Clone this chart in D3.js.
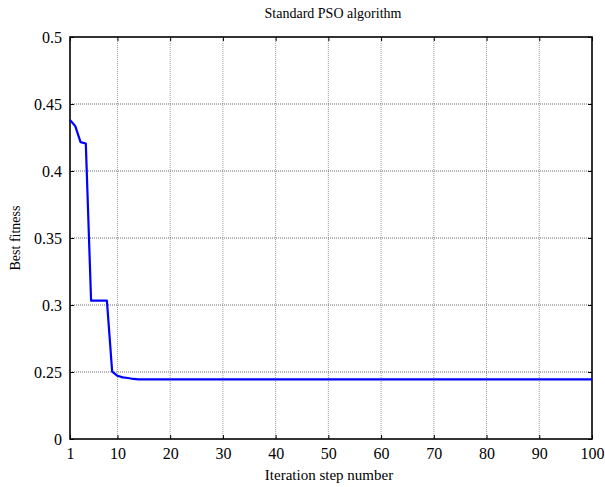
<!DOCTYPE html>
<html>
<head>
<meta charset="utf-8">
<script src="https://cdn.jsdelivr.net/npm/d3@7"></script>
<style>
  html, body { margin: 0; padding: 0; background: #fff; }
  svg { display: block; }
  svg text { font-family: "Liberation Serif", "Times New Roman", serif !important; fill: #000; }
</style>
</head>
<body>
<svg id="chart" width="605" height="487"></svg>
<script>
// ---- data ----
const titleText = "Standard PSO algorithm";
const xLabelText = "Iteration step number";
const yLabelText = "Best fitness";

const iterations = d3.range(1, 101);
const bestFitness = [
  0.4380, 0.4335, 0.4215, 0.4205, 0.3032, 0.3032, 0.3032, 0.3032, 0.2502, 0.2472,
  0.2460, 0.2455, 0.2448, 0.2445, 0.2445, 0.2445, 0.2445, 0.2445, 0.2445, 0.2445,
  0.2445, 0.2445, 0.2445, 0.2445, 0.2445, 0.2445, 0.2445, 0.2445, 0.2445, 0.2445,
  0.2445, 0.2445, 0.2445, 0.2445, 0.2445, 0.2445, 0.2445, 0.2445, 0.2445, 0.2445,
  0.2445, 0.2445, 0.2445, 0.2445, 0.2445, 0.2445, 0.2445, 0.2445, 0.2445, 0.2445,
  0.2445, 0.2445, 0.2445, 0.2445, 0.2445, 0.2445, 0.2445, 0.2445, 0.2445, 0.2445,
  0.2445, 0.2445, 0.2445, 0.2445, 0.2445, 0.2445, 0.2445, 0.2445, 0.2445, 0.2445,
  0.2445, 0.2445, 0.2445, 0.2445, 0.2445, 0.2445, 0.2445, 0.2445, 0.2445, 0.2445,
  0.2445, 0.2445, 0.2445, 0.2445, 0.2445, 0.2445, 0.2445, 0.2445, 0.2445, 0.2445,
  0.2445, 0.2445, 0.2445, 0.2445, 0.2445, 0.2445, 0.2445, 0.2445, 0.2445, 0.2445
];

const xTickValues = [1, 10, 20, 30, 40, 50, 60, 70, 80, 90, 100];
const yTickValues = [0.2, 0.25, 0.3, 0.35, 0.4, 0.45, 0.5];
const yTickLabels = ["0", "0.25", "0.3", "0.35", "0.4", "0.45", "0.5"];

// ---- layout ----
const svg = d3.select("#chart");
const L = 70, R = 592, T = 37, B = 439;
const FONT = '"Liberation Serif", "Times New Roman", serif';

const x = d3.scaleLinear().domain([1, 100]).range([L, R]);
const y = d3.scaleLinear().domain([0.2, 0.5]).range([B, T]);

// grid
const grid = svg.append("g");
grid.selectAll("line.vx")
  .data(xTickValues.slice(1, -1))
  .join("line")
  .attr("x1", d => x(d)).attr("x2", d => x(d))
  .attr("y1", T).attr("y2", B)
  .attr("stroke", "#9a9a9a").attr("stroke-width", 1)
  .attr("stroke-dasharray", "1,1");
grid.selectAll("line.hy")
  .data(yTickValues.slice(1, -1))
  .join("line")
  .attr("x1", L).attr("x2", R)
  .attr("y1", d => y(d)).attr("y2", d => y(d))
  .attr("stroke", "#6a6a6a").attr("stroke-width", 1)
  .attr("stroke-dasharray", "1,1");

// axes (ticks pointing inward)
const fmtY = d => yTickLabels[yTickValues.indexOf(d)];
const axB = svg.append("g").attr("transform", `translate(0,${B})`)
  .call(d3.axisBottom(x).tickValues(xTickValues).tickSize(-4).tickPadding(9).tickSizeOuter(0));
const axT = svg.append("g").attr("transform", `translate(0,${T})`)
  .call(d3.axisTop(x).tickValues(xTickValues).tickSize(-4).tickFormat("").tickSizeOuter(0));
const axL = svg.append("g").attr("transform", `translate(${L},0)`)
  .call(d3.axisLeft(y).tickValues(yTickValues).tickFormat(fmtY).tickSize(-4).tickPadding(8).tickSizeOuter(0));
const axR = svg.append("g").attr("transform", `translate(${R},0)`)
  .call(d3.axisRight(y).tickValues(yTickValues).tickSize(-4).tickFormat("").tickSizeOuter(0));

[axB, axT, axL, axR].forEach(g => {
  g.attr("font-family", null).attr("font-size", null);
  g.select(".domain").remove();
  g.selectAll(".tick line").attr("stroke", "#000").attr("stroke-width", 1);
  g.selectAll("text").style("font-family", FONT)
    .style("font-size", "16px").attr("fill", "#000");
});

// frame
svg.append("rect")
  .attr("x", L).attr("y", T).attr("width", R - L).attr("height", B - T)
  .attr("fill", "none").attr("stroke", "#000").attr("stroke-width", 1.6);

// line
const lineGen = d3.line().x((d, i) => x(iterations[i])).y(d => y(d));
svg.append("path")
  .datum(bestFitness)
  .attr("d", lineGen)
  .attr("fill", "none")
  .attr("stroke", "#0000ff")
  .attr("stroke-width", 2.2)
  .attr("stroke-linejoin", "round");

// labels
svg.append("text")
  .attr("x", (L + R) / 2 + 2).attr("y", 18)
  .attr("text-anchor", "middle").style("font-size", "14px")
  .text(titleText);

svg.append("text")
  .attr("x", (L + R) / 2 - 2).attr("y", 480)
  .attr("text-anchor", "middle").style("font-size", "15px")
  .text(xLabelText);

svg.append("text")
  .attr("transform", `translate(20,${(T + B) / 2}) rotate(-90)`)
  .attr("text-anchor", "middle").style("font-size", "14px")
  .text(yLabelText);
</script>
</body>
</html>
